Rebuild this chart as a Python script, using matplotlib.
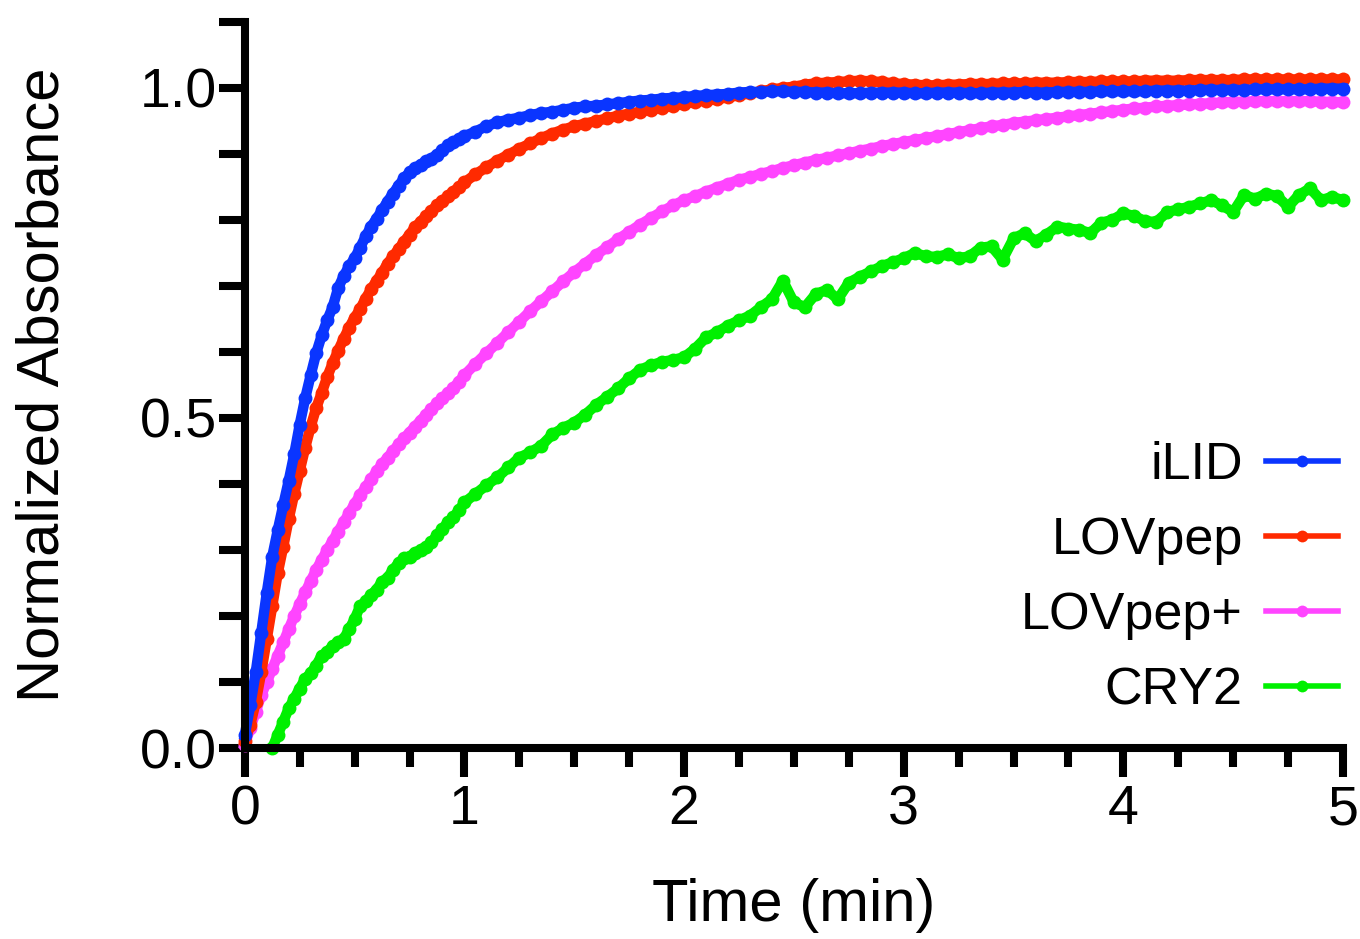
import numpy as np
import matplotlib
matplotlib.use('Agg')
import matplotlib.pyplot as plt
from matplotlib.ticker import MultipleLocator, FormatStrFormatter

plt.rcParams['font.family'] = ['Liberation Sans', 'DejaVu Sans']

# sample times (min): every 1.5 s for the first minute, then every 3 s
t = np.round(np.concatenate([np.arange(0, 1.0, 0.025), np.arange(1.0, 5.001, 0.05)]), 3)

nan = np.nan

ilid = [
    0.02, 0.065, 0.115, 0.175, 0.235, 0.29, 0.33, 0.368, 0.405, 0.445,
    0.49, 0.53, 0.565, 0.598, 0.625, 0.648, 0.668, 0.697, 0.715, 0.73,
    0.742, 0.758, 0.775, 0.79, 0.802, 0.815, 0.828, 0.84, 0.852, 0.863,
    0.872, 0.878, 0.884, 0.889, 0.893, 0.899, 0.906, 0.913, 0.918, 0.922,
    0.927, 0.934, 0.942, 0.948, 0.952, 0.955, 0.959, 0.962, 0.964, 0.967,
    0.970, 0.972, 0.973, 0.975, 0.977, 0.979, 0.981, 0.982, 0.984, 0.985,
    0.986, 0.988, 0.989, 0.990, 0.991, 0.993, 0.994, 0.994, 0.995, 0.995,
    0.994, 0.994, 0.993, 0.993, 0.992, 0.992, 0.992, 0.993, 0.993, 0.993,
    0.993, 0.992, 0.992, 0.993, 0.993, 0.993, 0.992, 0.992, 0.993, 0.993,
    0.993, 0.994, 0.993, 0.993, 0.994, 0.994, 0.994, 0.994, 0.995, 0.995,
    0.995, 0.995, 0.995, 0.996, 0.996, 0.996, 0.996, 0.997, 0.997, 0.997,
    0.997, 0.997, 0.998, 0.998, 0.998, 0.998, 0.998, 0.998, 0.999, 0.999,
    0.999,
]

lovpep = [
    0.01, 0.035, 0.07, 0.115, 0.165, 0.215, 0.265, 0.305, 0.347, 0.385,
    0.42, 0.455, 0.487, 0.515, 0.538, 0.562, 0.583, 0.602, 0.62, 0.637,
    0.652, 0.665, 0.681, 0.695, 0.708, 0.72, 0.734, 0.745, 0.756, 0.767,
    0.778, 0.789, 0.797, 0.806, 0.814, 0.822, 0.829, 0.836, 0.843, 0.85,
    0.857, 0.869, 0.880, 0.890, 0.899, 0.908, 0.916, 0.924, 0.931, 0.937,
    0.942, 0.946, 0.950, 0.954, 0.958, 0.961, 0.964, 0.967, 0.970, 0.973,
    0.976, 0.979, 0.981, 0.983, 0.986, 0.989, 0.992, 0.995, 0.998, 1.000,
    1.002, 1.005, 1.007, 1.008, 1.009, 1.010, 1.011, 1.010, 1.009, 1.007,
    1.006, 1.005, 1.004, 1.004, 1.005, 1.005, 1.006, 1.006, 1.006, 1.007,
    1.007, 1.007, 1.008, 1.008, 1.008, 1.009, 1.009, 1.009, 1.010, 1.010,
    1.010, 1.010, 1.011, 1.011, 1.011, 1.011, 1.012, 1.012, 1.012, 1.012,
    1.012, 1.013, 1.013, 1.013, 1.013, 1.013, 1.013, 1.013, 1.013, 1.013,
    1.013,
]

lovpep_plus = [
    0.005, 0.03, 0.055, 0.08, 0.10, 0.12, 0.14, 0.16, 0.18, 0.20,
    0.218, 0.236, 0.253, 0.27, 0.285, 0.30, 0.314, 0.328, 0.342, 0.356,
    0.37, 0.383, 0.395, 0.407, 0.419, 0.43, 0.44, 0.45, 0.46, 0.469,
    0.478, 0.487, 0.496, 0.505, 0.514, 0.522, 0.530, 0.538, 0.546, 0.555,
    0.565, 0.582, 0.598, 0.614, 0.630, 0.646, 0.662, 0.677, 0.692, 0.707,
    0.721, 0.734, 0.747, 0.759, 0.771, 0.782, 0.793, 0.803, 0.813, 0.822,
    0.830, 0.836, 0.843, 0.849, 0.855, 0.861, 0.865, 0.870, 0.874, 0.879,
    0.883, 0.887, 0.891, 0.894, 0.898, 0.901, 0.905, 0.908, 0.912, 0.915,
    0.918, 0.921, 0.924, 0.927, 0.930, 0.933, 0.936, 0.939, 0.942, 0.944,
    0.947, 0.949, 0.951, 0.953, 0.955, 0.957, 0.959, 0.961, 0.963, 0.965,
    0.967, 0.969, 0.970, 0.972, 0.973, 0.974, 0.975, 0.976, 0.977, 0.978,
    0.979, 0.979, 0.980, 0.980, 0.980, 0.980, 0.980, 0.980, 0.979, 0.979,
    0.978,
]

cry2 = [
    nan, nan, nan, nan, nan, 0.0, 0.02, 0.04, 0.06, 0.075,
    0.09, 0.105, 0.113, 0.125, 0.14, 0.145, 0.155, 0.16, 0.165, 0.18,
    0.195, 0.215, 0.222, 0.232, 0.24, 0.252, 0.258, 0.27, 0.28, 0.288,
    0.29, 0.296, 0.30, 0.305, 0.312, 0.322, 0.332, 0.342, 0.35, 0.36,
    0.372, 0.385, 0.398, 0.41, 0.425, 0.44, 0.448, 0.458, 0.475, 0.485,
    0.493, 0.505, 0.52, 0.532, 0.545, 0.56, 0.573, 0.58, 0.585, 0.588,
    0.592, 0.605, 0.622, 0.63, 0.64, 0.648, 0.655, 0.668, 0.68, 0.708,
    0.675, 0.668, 0.688, 0.694, 0.68, 0.705, 0.714, 0.722, 0.73, 0.736,
    0.742, 0.75, 0.745, 0.744, 0.748, 0.742, 0.745, 0.758, 0.76, 0.74,
    0.772, 0.78, 0.768, 0.778, 0.79, 0.787, 0.785, 0.78, 0.796, 0.80,
    0.81, 0.806, 0.798, 0.797, 0.812, 0.816, 0.82, 0.825, 0.83, 0.822,
    0.812, 0.838, 0.832, 0.84, 0.836, 0.82, 0.838, 0.848, 0.83, 0.835,
    0.83,
]

names = ['iLID', 'LOVpep', 'LOVpep+', 'CRY2']
colors = ['#0a35ff', '#ff2a00', '#ff45ff', '#00f000']
series = [ilid, lovpep, lovpep_plus, cry2]

fig = plt.figure(figsize=(13.6, 9.39), dpi=100)
ax = fig.add_axes([0.180, 0.2034, 0.8075, 0.7732])

handles = {}
# draw back to front so iLID ends up on top
for name, col, y in reversed(list(zip(names, colors, series))):
    h, = ax.plot(t, y, '-o', color=col, lw=7.5, ms=10, mew=0, label=name, clip_on=False)
    handles[name] = h

ax.set_xlim(0, 5)
ax.set_ylim(0, 1.1)

for s in ['top', 'right']:
    ax.spines[s].set_visible(False)
for s in ['left', 'bottom']:
    ax.spines[s].set_linewidth(5.8)

ax.xaxis.set_major_locator(MultipleLocator(1))
ax.xaxis.set_minor_locator(MultipleLocator(0.25))
ax.yaxis.set_major_locator(MultipleLocator(0.5))
ax.yaxis.set_minor_locator(MultipleLocator(0.1))
ax.yaxis.set_major_formatter(FormatStrFormatter('%.1f'))

ax.tick_params(axis='y', which='both', direction='out', length=19, width=5.8, labelsize=40, pad=1)
ax.tick_params(axis='x', which='major', direction='out', length=21, width=5.8, labelsize=40, pad=5)
ax.tick_params(axis='x', which='minor', direction='out', length=14, width=5.8)

ax.set_xlabel('Time (min)', fontsize=43, labelpad=30)
ax.set_ylabel('Normalized Absorbance', fontsize=43, labelpad=50)

leg = ax.legend([handles[n] for n in names], names, loc='lower right',
                bbox_to_anchor=(0.9954, 0.045), fontsize=37.5, frameon=False,
                markerfirst=False, handlelength=1.38, handletextpad=0.45,
                labelspacing=0.5, borderpad=0, borderaxespad=0)
for lh in leg.get_lines():
    lh.set_linewidth(4)
    lh.set_markersize(8.5)

fig.savefig('out.png', dpi=100)
